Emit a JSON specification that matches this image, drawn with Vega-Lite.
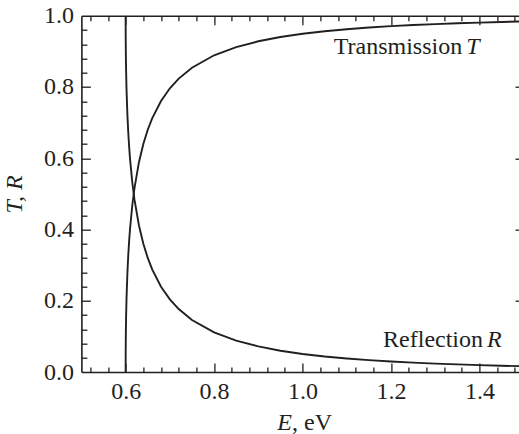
{
  "$schema": "https://vega.github.io/schema/vega-lite/v6.json",
  "width": 437.6,
  "height": 356.3,
  "autosize": "none",
  "padding": {"left": 81.4, "top": 15.7, "right": 0, "bottom": 62},
  "background": "white",
  "view": {"stroke": null},
  "config": {
    "font": "Liberation Serif, Times New Roman, serif",
    "text": {"font": "Liberation Serif, Times New Roman, serif"},
    "axis": {
      "labelFont": "Liberation Serif, Times New Roman, serif",
      "labelFontSize": 24,
      "labelColor": "#231f20",
      "domainColor": "#231f20",
      "tickColor": "#231f20",
      "domainWidth": 1.6,
      "tickWidth": 1.3,
      "grid": false,
      "titleFont": "Liberation Serif, Times New Roman, serif",
      "titleFontWeight": "normal",
      "titleColor": "#231f20"
    }
  },
  "datasets": {
    "curve": [
      {"E": 0.6, "T": 0, "R": 1},
      {"E": 0.6001, "T": 0.0503, "R": 0.9497},
      {"E": 0.6005, "T": 0.1091, "R": 0.8909},
      {"E": 0.601, "T": 0.1506, "R": 0.8494},
      {"E": 0.602, "T": 0.2061, "R": 0.7939},
      {"E": 0.604, "T": 0.2784, "R": 0.7216},
      {"E": 0.606, "T": 0.3292, "R": 0.6708},
      {"E": 0.608, "T": 0.3693, "R": 0.6307},
      {"E": 0.61, "T": 0.4025, "R": 0.5975},
      {"E": 0.615, "T": 0.4673, "R": 0.5327},
      {"E": 0.62, "T": 0.5163, "R": 0.4837},
      {"E": 0.63, "T": 0.5882, "R": 0.4118},
      {"E": 0.64, "T": 0.64, "R": 0.36},
      {"E": 0.65, "T": 0.6799, "R": 0.3201},
      {"E": 0.66, "T": 0.712, "R": 0.288},
      {"E": 0.68, "T": 0.7607, "R": 0.2393},
      {"E": 0.7, "T": 0.7962, "R": 0.2038},
      {"E": 0.72, "T": 0.8234, "R": 0.1766},
      {"E": 0.75, "T": 0.8541, "R": 0.1459},
      {"E": 0.8, "T": 0.8889, "R": 0.1111},
      {"E": 0.85, "T": 0.9119, "R": 0.0881},
      {"E": 0.9, "T": 0.9282, "R": 0.0718},
      {"E": 0.95, "T": 0.9402, "R": 0.0598},
      {"E": 1.0, "T": 0.9493, "R": 0.0507},
      {"E": 1.05, "T": 0.9564, "R": 0.0436},
      {"E": 1.1, "T": 0.9621, "R": 0.0379},
      {"E": 1.15, "T": 0.9668, "R": 0.0332},
      {"E": 1.2, "T": 0.9706, "R": 0.0294},
      {"E": 1.25, "T": 0.9737, "R": 0.0263},
      {"E": 1.3, "T": 0.9764, "R": 0.0236},
      {"E": 1.35, "T": 0.9787, "R": 0.0213},
      {"E": 1.4, "T": 0.9807, "R": 0.0193},
      {"E": 1.45, "T": 0.9824, "R": 0.0176},
      {"E": 1.5, "T": 0.9839, "R": 0.0161}
    ],
    "romanRight": [
      {"label": "Transmission", "E": 1.3654, "v": 0.8917},
      {"label": "Reflection", "E": 1.4125, "v": 0.071}
    ],
    "italicLeft": [
      {"label": "T", "E": 1.3654, "v": 0.8917},
      {"label": "R", "E": 1.4125, "v": 0.071}
    ],
    "italicRight": [
      {"label": "E", "E": 0.9761, "v": -0.163}
    ],
    "romanLeft": [
      {"label": ", eV", "E": 0.9761, "v": -0.163}
    ]
  },
  "resolve": {"axis": {"x": "independent", "y": "independent"}},
  "layer": [
    {
      "data": {"name": "curve"},
      "mark": {"type": "line", "color": "#231f20", "strokeWidth": 1.9, "clip": true},
      "encoding": {
        "x": {"field": "E", "type": "quantitative",
          "scale": {"domain": [0.5, 1.4893], "nice": false, "zero": false},
          "axis": {"orient": "bottom", "values": [0.6, 0.8, 1.0, 1.2, 1.4], "format": ".1f", "ticks": false, "labelPadding": 7, "domain": true, "title": null, "labelFlush": false, "labelOverlap": false}},
        "y": {"field": "T", "type": "quantitative",
          "scale": {"domain": [0, 1], "nice": false, "zero": false},
          "axis": {"orient": "left", "values": [0, 0.2, 0.4, 0.6, 0.8, 1.0], "format": ".1f", "ticks": false, "labelPadding": 8, "domain": true, "title": "T, R", "titleFontStyle": "italic", "titleFontSize": 24, "titlePadding": 17, "labelFlush": false, "labelOverlap": false}}
      }
    },
    {
      "data": {"name": "curve"},
      "mark": {"type": "line", "color": "#231f20", "strokeWidth": 1.9, "clip": true},
      "encoding": {
        "x": {"field": "E", "type": "quantitative",
          "scale": {"domain": [0.5, 1.4893], "nice": false, "zero": false},
          "axis": {"orient": "top", "values": [0.6, 0.8, 1.0, 1.2, 1.4], "labels": false, "tickSize": -9, "domain": true, "title": null}},
        "y": {"field": "R", "type": "quantitative",
          "scale": {"domain": [0, 1], "nice": false, "zero": false},
          "axis": {"orient": "right", "values": [0.2, 0.4, 0.6, 0.8], "labels": false, "tickSize": -9, "domain": false, "offset": 5, "title": null}}
      }
    },
    {
      "data": {"name": "romanRight"},
      "mark": {"type": "text", "align": "right", "baseline": "alphabetic", "dx": -2, "font": "Liberation Serif, Times New Roman, serif", "fontSize": 24, "color": "#231f20"},
      "encoding": {
        "x": {"field": "E", "type": "quantitative",
          "scale": {"domain": [0.5, 1.4893], "nice": false, "zero": false},
          "axis": {"orient": "bottom", "values": [0.6, 0.8, 1.0, 1.2, 1.4], "labels": false, "tickSize": -9, "domain": false, "title": null}},
        "y": {"field": "v", "type": "quantitative",
          "scale": {"domain": [0, 1], "nice": false, "zero": false},
          "axis": {"orient": "left", "values": [0.2, 0.4, 0.6, 0.8], "labels": false, "tickSize": -9, "domain": false, "title": null}},
        "text": {"field": "label"}
      }
    },
    {
      "data": {"name": "italicLeft"},
      "mark": {"type": "text", "align": "left", "baseline": "alphabetic", "dx": 2, "font": "Liberation Serif, Times New Roman, serif", "fontStyle": "italic", "fontSize": 24, "color": "#231f20"},
      "encoding": {
        "x": {"field": "E", "type": "quantitative",
          "scale": {"domain": [0.5, 1.4893], "nice": false, "zero": false},
          "axis": {"orient": "bottom", "values": [0.52, 0.56, 0.64, 0.68, 0.72, 0.76, 0.84, 0.88, 0.92, 0.96, 1.04, 1.08, 1.12, 1.16, 1.24, 1.28, 1.32, 1.36, 1.44, 1.48], "labels": false, "tickSize": -5, "domain": false, "title": null}},
        "y": {"field": "v", "type": "quantitative",
          "scale": {"domain": [0, 1], "nice": false, "zero": false},
          "axis": {"orient": "left", "values": [0.04, 0.08, 0.12, 0.16, 0.24, 0.28, 0.32, 0.36, 0.44, 0.48, 0.52, 0.56, 0.64, 0.68, 0.72, 0.76, 0.84, 0.88, 0.92, 0.96], "labels": false, "tickSize": -5.5, "domain": false, "title": null}},
        "text": {"field": "label"}
      }
    },
    {
      "data": {"name": "italicRight"},
      "mark": {"type": "text", "align": "right", "baseline": "alphabetic", "font": "Liberation Serif, Times New Roman, serif", "fontStyle": "italic", "fontSize": 24, "color": "#231f20"},
      "encoding": {
        "x": {"field": "E", "type": "quantitative",
          "scale": {"domain": [0.5, 1.4893], "nice": false, "zero": false},
          "axis": {"orient": "top", "values": [0.52, 0.56, 0.64, 0.68, 0.72, 0.76, 0.84, 0.88, 0.92, 0.96, 1.04, 1.08, 1.12, 1.16, 1.24, 1.28, 1.32, 1.36, 1.44, 1.48], "labels": false, "tickSize": -5, "domain": false, "title": null}},
        "y": {"field": "v", "type": "quantitative",
          "scale": {"domain": [0, 1], "nice": false, "zero": false},
          "axis": null},
        "text": {"field": "label"}
      }
    },
    {
      "data": {"name": "romanLeft"},
      "mark": {"type": "text", "align": "left", "baseline": "alphabetic", "font": "Liberation Serif, Times New Roman, serif", "fontSize": 24, "color": "#231f20"},
      "encoding": {
        "x": {"field": "E", "type": "quantitative",
          "scale": {"domain": [0.5, 1.4893], "nice": false, "zero": false},
          "axis": null},
        "y": {"field": "v", "type": "quantitative",
          "scale": {"domain": [0, 1], "nice": false, "zero": false},
          "axis": null},
        "text": {"field": "label"}
      }
    }
  ]
}
